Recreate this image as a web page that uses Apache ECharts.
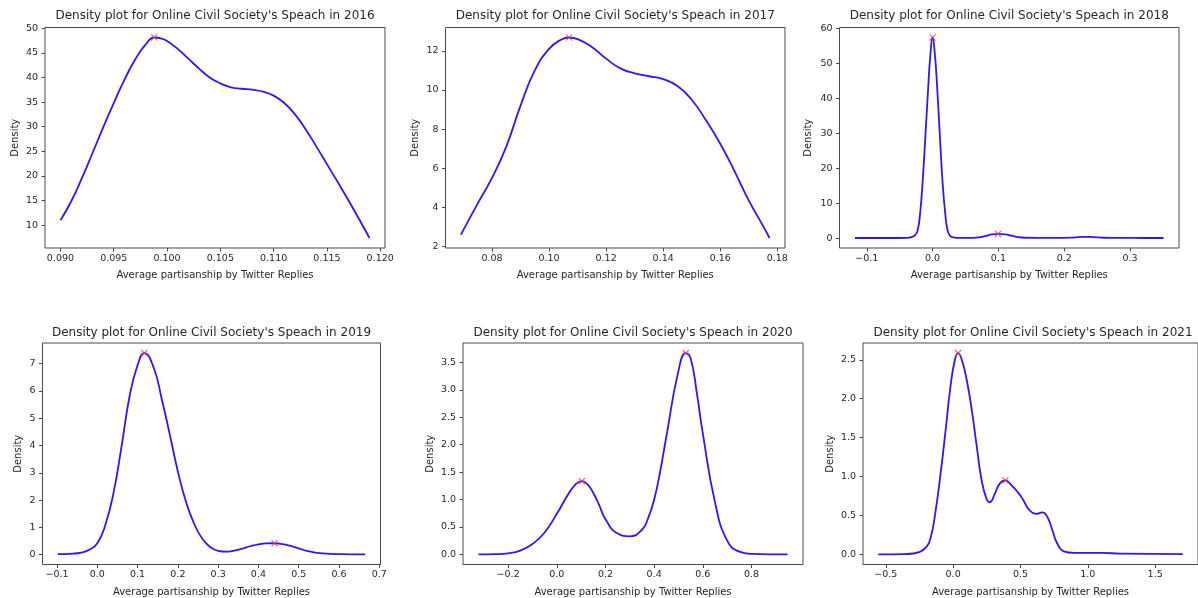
<!DOCTYPE html>
<html>
<head>
<meta charset="utf-8">
<script src="https://cdn.jsdelivr.net/npm/echarts@6/dist/echarts.min.js"></script>
<style>
html,body{margin:0;padding:0;background:#fff;}
#chart{width:1198px;height:598px;}
</style>
</head>
<body>
<div id="chart"></div>
<script>
// ---------------- DATA ----------------
const years = [2016, 2017, 2018, 2019, 2020, 2021];
const titlePrefix = "Density plot for Online Civil Society's Speach in ";
const xAxisName = "Average partisanship by Twitter Replies";
const yAxisName = "Density";

const x2016 = [0.0900, 0.0910, 0.0920, 0.0930, 0.0940, 0.0950, 0.0960, 0.0970, 0.0980, 0.0988, 0.0995, 0.1000, 0.1010, 0.1020, 0.1030, 0.1040, 0.1050, 0.1060, 0.1070, 0.1080, 0.1090, 0.1100, 0.1110, 0.1120, 0.1130, 0.1140, 0.1150, 0.1160, 0.1170, 0.1180, 0.1190];
const y2016 = [11.0, 14.8, 19.5, 24.6, 29.8, 34.8, 39.5, 43.6, 46.7, 48.1, 47.9, 47.4, 45.8, 43.8, 41.8, 40.0, 38.8, 38.0, 37.7, 37.5, 37.1, 36.3, 34.8, 32.5, 29.5, 26.0, 22.4, 18.8, 15.1, 11.3, 7.4];
const peaks2016 = [[0.0988, 48.1]];

const x2017 = [0.0691, 0.075, 0.080, 0.085, 0.090, 0.095, 0.100, 0.104, 0.107, 0.110, 0.115, 0.120, 0.125, 0.130, 0.135, 0.140, 0.145, 0.150, 0.155, 0.160, 0.165, 0.170, 0.175, 0.1773];
const y2017 = [2.6, 4.2, 5.5, 7.1, 9.2, 11.0, 12.1, 12.55, 12.68, 12.6, 12.2, 11.6, 11.1, 10.85, 10.7, 10.55, 10.2, 9.5, 8.45, 7.25, 5.85, 4.35, 3.05, 2.43];
const peaks2017 = [[0.1070, 12.68]];

const x2018 = [-0.118, -0.09, -0.06, -0.04, -0.032, -0.027, -0.023, -0.019, -0.015, -0.011, -0.007, -0.0035, 0.0, 0.0035, 0.007, 0.011, 0.015, 0.019, 0.023, 0.027, 0.032, 0.04, 0.055, 0.07, 0.08, 0.09, 0.0995, 0.11, 0.12, 0.13, 0.14, 0.16, 0.19, 0.21, 0.222, 0.233, 0.245, 0.26, 0.29, 0.32, 0.351];
const y2018 = [0.05, 0.05, 0.05, 0.1, 0.3, 0.8, 2.0, 7.0, 16.5, 29.0, 42.0, 52.0, 57.4, 52.5, 43.0, 29.5, 16.5, 7.5, 2.0, 0.6, 0.25, 0.1, 0.1, 0.25, 0.6, 1.05, 1.2, 1.1, 0.7, 0.3, 0.12, 0.08, 0.08, 0.15, 0.3, 0.38, 0.3, 0.12, 0.06, 0.05, 0.05];
const peaks2018 = [[0.0, 57.4], [0.0995, 1.2]];

const x2019 = [-0.098, -0.06, -0.04, -0.02, 0.0, 0.02, 0.04, 0.06, 0.08, 0.10, 0.1166, 0.14, 0.16, 0.18, 0.20, 0.22, 0.24, 0.26, 0.28, 0.30, 0.32, 0.34, 0.36, 0.38, 0.40, 0.42, 0.44, 0.46, 0.48, 0.50, 0.52, 0.54, 0.56, 0.60, 0.665];
const y2019 = [0.02, 0.04, 0.08, 0.18, 0.42, 1.1, 2.25, 3.95, 5.8, 6.95, 7.39, 6.85, 5.7, 4.4, 3.05, 1.95, 1.15, 0.6, 0.28, 0.14, 0.11, 0.15, 0.22, 0.31, 0.38, 0.415, 0.42, 0.39, 0.32, 0.23, 0.14, 0.08, 0.045, 0.02, 0.01];
const peaks2019 = [[0.1166, 7.39], [0.440, 0.42]];

const x2020 = [-0.322, -0.25, -0.20, -0.15, -0.10, -0.05, 0.0, 0.05, 0.08, 0.103, 0.125, 0.15, 0.175, 0.20, 0.25, 0.30, 0.35, 0.375, 0.40, 0.425, 0.45, 0.50, 0.53, 0.55, 0.575, 0.60, 0.65, 0.70, 0.75, 0.80, 0.948];
const y2020 = [0.0, 0.005, 0.02, 0.07, 0.19, 0.40, 0.74, 1.12, 1.29, 1.335, 1.28, 1.12, 0.89, 0.64, 0.38, 0.33, 0.45, 0.66, 1.0, 1.52, 2.15, 3.35, 3.67, 3.57, 2.95, 2.2, 0.95, 0.25, 0.05, 0.01, 0.0];
const peaks2020 = [[0.103, 1.335], [0.530, 3.67]];

const x2021 = [-0.556, -0.349, -0.251, -0.202, -0.166, -0.129, -0.093, -0.056, -0.020, 0.012, 0.037, 0.066, 0.102, 0.139, 0.176, 0.212, 0.249, 0.273, 0.310, 0.346, 0.388, 0.432, 0.480, 0.517, 0.566, 0.615, 0.663, 0.700, 0.737, 0.773, 0.822, 0.895, 1.115, 1.237, 1.705];
const y2021 = [0.0, 0.005, 0.03, 0.09, 0.22, 0.57, 1.04, 1.59, 2.15, 2.49, 2.586, 2.49, 2.23, 1.85, 1.38, 0.95, 0.71, 0.67, 0.78, 0.91, 0.95, 0.89, 0.80, 0.71, 0.57, 0.52, 0.54, 0.48, 0.31, 0.14, 0.04, 0.02, 0.02, 0.01, 0.005];
const peaks2021 = [[0.037, 2.586], [0.388, 0.95]];

const xTickLabels2016 = ["0.090", "0.095", "0.100", "0.105", "0.110", "0.115", "0.120"];
const yTickLabels2016 = ["10", "15", "20", "25", "30", "35", "40", "45", "50"];
const xTickLabels2017 = ["0.08", "0.10", "0.12", "0.14", "0.16", "0.18"];
const yTickLabels2017 = ["2", "4", "6", "8", "10", "12"];
const xTickLabels2018 = ["\u22120.1", "0.0", "0.1", "0.2", "0.3"];
const yTickLabels2018 = ["0", "10", "20", "30", "40", "50", "60"];
const xTickLabels2019 = ["\u22120.1", "0.0", "0.1", "0.2", "0.3", "0.4", "0.5", "0.6", "0.7"];
const yTickLabels2019 = ["0", "1", "2", "3", "4", "5", "6", "7"];
const xTickLabels2020 = ["\u22120.2", "0.0", "0.2", "0.4", "0.6", "0.8"];
const yTickLabels2020 = ["0.0", "0.5", "1.0", "1.5", "2.0", "2.5", "3.0", "3.5"];
const xTickLabels2021 = ["\u22120.5", "0.0", "0.5", "1.0", "1.5"];
const yTickLabels2021 = ["0.0", "0.5", "1.0", "1.5", "2.0", "2.5"];

// ---------------- LAYOUT / STYLE ----------------
const FONT = "DejaVu Sans";
const TEXT = "#262626";
const LINE = "#2f17f4";
const MARK = "#e8423c";
const AXIS = "#4a4a4a";
const panels = [
  {x: x2016, y: y2016, peaks: peaks2016, xt: xTickLabels2016, yt: yTickLabels2016, box: [45, 27.5, 340, 220.5], yGap: 25, titleTop: 10},
  {x: x2017, y: y2017, peaks: peaks2017, xt: xTickLabels2017, yt: yTickLabels2017, box: [445.5, 27.5, 339.5, 220.5], yGap: 25, titleTop: 10},
  {x: x2018, y: y2018, peaks: peaks2018, xt: xTickLabels2018, yt: yTickLabels2018, box: [839.5, 27.5, 339.5, 220.5], yGap: 26, titleTop: 10},
  {x: x2019, y: y2019, peaks: peaks2019, xt: xTickLabels2019, yt: yTickLabels2019, box: [42.5, 343, 338, 221.5], yGap: 19.5, titleTop: 327},
  {x: x2020, y: y2020, peaks: peaks2020, xt: xTickLabels2020, yt: yTickLabels2020, box: [463, 343, 340, 221.5], yGap: 28, titleTop: 327},
  {x: x2021, y: y2021, peaks: peaks2021, xt: xTickLabels2021, yt: yTickLabels2021, box: [863, 343, 340, 221.5], yGap: 28, titleTop: 327}
];

const toNum = s => parseFloat(s.replace("\u2212", "-"));
function limits(vals) {
  const lo = Math.min(...vals), hi = Math.max(...vals);
  const pad = 0.05 * (hi - lo);
  return [lo - pad, hi + pad];
}
function labelFmt(labels) {
  const nums = labels.map(toNum);
  return v => {
    let best = 0, bd = Infinity;
    nums.forEach((n, i) => { const d = Math.abs(n - v); if (d < bd) { bd = d; best = i; } });
    return labels[best];
  };
}
const xPath = "path://M0,1.2L1.2,0L5,3.8L8.8,0L10,1.2L6.2,5L10,8.8L8.8,10L5,6.2L1.2,10L0,8.8L3.8,5Z";

const option = {
  animation: false,
  backgroundColor: "#ffffff",
  title: [], grid: [], xAxis: [], yAxis: [], series: []
};

panels.forEach((p, i) => {
  const [left, top, width, height] = p.box;
  const xl = limits(p.x.concat(p.peaks.map(d => d[0])));
  const yl = limits(p.y.concat(p.peaks.map(d => d[1])));
  const xv = p.xt.map(toNum), yv = p.yt.map(toNum);
  option.title.push({
    text: titlePrefix + years[i],
    left: left + width / 2, top: p.titleTop, textAlign: "center", padding: 0,
    textStyle: {fontFamily: FONT, fontSize: 12, fontWeight: "normal", color: TEXT}
  });
  option.grid.push({left, top, width, height, show: true, borderColor: AXIS, borderWidth: 1, backgroundColor: "transparent"});
  option.xAxis.push({
    gridIndex: i, type: "value", min: xl[0], max: xl[1],
    splitLine: {show: false}, axisLine: {show: false, onZero: false},
    axisTick: {show: true, inside: false, length: 3.5, lineStyle: {color: AXIS, width: 1}, customValues: xv},
    axisLabel: {customValues: xv, formatter: labelFmt(p.xt), fontFamily: FONT, fontSize: 9.5, color: TEXT, margin: 5.5},
    name: xAxisName, nameLocation: "middle", nameGap: 22.5,
    nameTextStyle: {fontFamily: FONT, fontSize: 10, color: TEXT}
  });
  option.yAxis.push({
    gridIndex: i, type: "value", min: yl[0], max: yl[1],
    splitLine: {show: false}, axisLine: {show: false, onZero: false},
    axisTick: {show: true, inside: false, length: 3.5, lineStyle: {color: AXIS, width: 1}, customValues: yv},
    axisLabel: {customValues: yv, formatter: labelFmt(p.yt), fontFamily: FONT, fontSize: 9.5, color: TEXT, margin: 7},
    name: yAxisName, nameLocation: "middle", nameGap: p.yGap, nameRotate: 90,
    nameTextStyle: {fontFamily: FONT, fontSize: 10, color: TEXT}
  });
  option.series.push({
    type: "line", xAxisIndex: i, yAxisIndex: i,
    data: p.x.map((v, k) => [v, p.y[k]]),
    smooth: 0.5, showSymbol: false, symbol: "none",
    lineStyle: {color: LINE, width: 1.8}, silent: true, z: 2
  });
  option.series.push({
    type: "scatter", xAxisIndex: i, yAxisIndex: i,
    data: p.peaks, symbol: xPath, symbolSize: 7,
    itemStyle: {color: MARK}, silent: true, z: 3
  });
});

const chart = echarts.init(document.getElementById("chart"), null, {renderer: "canvas"});
chart.setOption(option);
</script>
</body>
</html>
